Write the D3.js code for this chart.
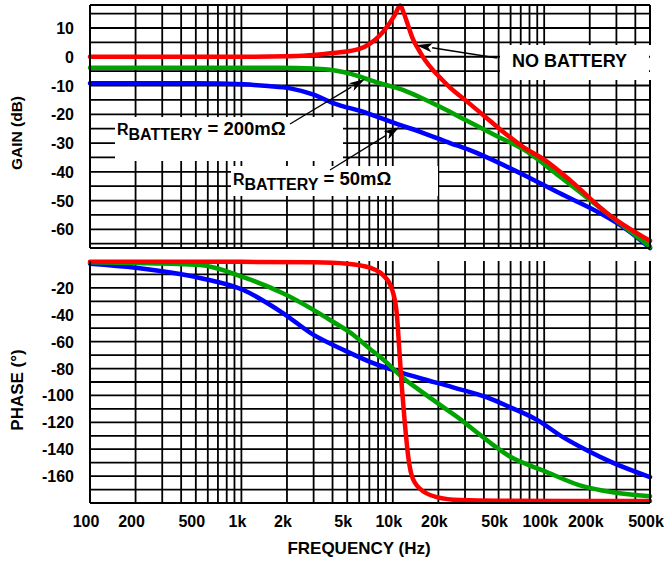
<!DOCTYPE html>
<html><head><meta charset="utf-8">
<script src="https://cdn.jsdelivr.net/npm/d3@7"></script>
<style>
body{margin:0;background:#fff}
text{font-family:"Liberation Sans",Arial,sans-serif;font-weight:bold;fill:#000}
</style>
</head><body>
<svg id="c" width="664" height="563"></svg>
<script>
// ---------- data ----------
const xTickValues = [100,200,500,1000,2000,5000,10000,20000,50000,100000,200000,500000];
const xTickLabels = ["100","200","500","1k","2k","5k","10k","20k","50k","100k","200k","500k"];
const gainTicks = [10,0,-10,-20,-30,-40,-50,-60];
const phaseTicks = [-20,-40,-60,-80,-100,-120,-140,-160];
const gainGrid = [15,10,5,0,-5,-10,-15,-20,-25,-30,-35,-40,-45,-50,-55,-60,-65];
const phaseGrid = [-10,-20,-30,-40,-50,-60,-70,-80,-90,-100,-110,-120,-130,-140,-150,-160,-170];

// NO BATTERY (red)
const redGainF = [100,1000,2000,3000,3850,5200,6070,7070,8200,9100,10300,11200,11800,12600,13500,15000,16500,18400,20500,24000,31000,40000,51000,72000,100000,148000,260000,500000];
const redGain  = [0,0,0.2,0.6,1.2,2.0,2.8,4.6,7.4,10.2,14.5,17.8,15.3,11.0,6.5,2.0,-1.5,-4.6,-7.2,-10.8,-15.6,-20.5,-25.2,-31.2,-35.8,-42.9,-54.4,-64];
// RBATTERY = 200mΩ (green)
const greenGainF = [100,1000,1800,3000,3850,4700,6000,7000,9000,11000,12400,15000,20500,27800,50000,72000,126000,260000,500000];
const greenGain  = [-3.8,-3.8,-3.8,-4.1,-4.5,-5.3,-6.8,-8,-9.8,-11.1,-12.1,-14,-17.4,-21,-27.9,-32,-41.5,-54.4,-66];
// RBATTERY = 50mΩ (blue)
const blueGainF = [100,500,1030,1500,2100,3000,4000,6700,11100,15000,23900,32000,69000,126000,234000,350000,500000];
const blueGain  = [-9.2,-9.2,-9.6,-10.2,-11,-13.2,-16,-19.5,-23.7,-26,-30,-32.4,-40.4,-47.4,-54.4,-60,-66.5];

const redPhaseF = [100,1000,3000,5000,7070,8600,9800,10600,11100,11500,12000,12600,13300,15000,19500,27800,50000,500000];
const redPhase  = [-0.6,-0.6,-1,-2,-5,-10.4,-20,-38,-70,-95,-120,-144,-159,-169,-175.6,-177.8,-178.3,-178.5];
const greenPhaseF = [100,200,532,1030,1880,4000,5500,7000,9000,11700,15000,20500,27800,35000,45000,62000,80000,104000,170000,283000,500000];
const greenPhase  = [-1,-1.5,-3,-12,-24,-45,-55,-65,-75,-87,-96,-107,-117.5,-126.5,-136,-146.6,-152,-157,-166.7,-172,-175];
const bluePhaseF = [100,200,532,1030,1880,3000,4700,7070,11100,15000,25000,41900,59000,89000,133000,190000,283000,500000];
const bluePhase  = [-2,-5,-12.6,-21.6,-38.7,-55,-66,-75,-82.6,-87,-94,-101.5,-108.6,-118,-131,-140.6,-150,-160.7];

// ---------- layout ----------
const L = 90, R = 650;
const gTop = 5, gBot = 248, pTop = 261, pBot = 503;
const svg = d3.select("#c");
const x = d3.scaleLog().domain([100,500000]).range([L,R]);
const yG = d3.scaleLinear().domain([-66.5,18]).range([gBot,gTop]);
const yP = d3.scaleLinear().domain([-180,0]).range([pBot,pTop]);

const xGrid = [];
[100,1000,10000,100000].forEach(d => { for (let m=1;m<=9;m++){ const v=m*d; if (v>100 && v<500000) xGrid.push(v);} });

function panel(y, top, bot, hgrid){
  const g = svg.append("g");
  g.selectAll("line.v").data(xGrid).enter().append("line")
    .attr("x1",d=>x(d)).attr("x2",d=>x(d)).attr("y1",top).attr("y2",bot)
    .attr("stroke","#000").attr("stroke-width",1.8);
  g.selectAll("line.h").data(hgrid).enter().append("line")
    .attr("x1",L).attr("x2",R).attr("y1",d=>y(d)).attr("y2",d=>y(d))
    .attr("stroke","#000").attr("stroke-width",1.8);
  return g;
}
panel(yG, gTop, gBot, gainGrid);
panel(yP, pTop, pBot, phaseGrid);

// white label boxes
const boxes = [[115,117,228,44],[231,166,207,30],[500,45,149,35]];
svg.selectAll("rect.box").data(boxes).enter().append("rect")
  .attr("x",d=>d[0]).attr("y",d=>d[1]).attr("width",d=>d[2]).attr("height",d=>d[3]).attr("fill","#fff");

// clip paths
const defs = svg.append("defs");
defs.append("clipPath").attr("id","cg").append("rect").attr("x",L-3).attr("y",gTop-3).attr("width",R-L+6).attr("height",gBot-gTop+6);
defs.append("clipPath").attr("id","cp").append("rect").attr("x",L-3).attr("y",pTop-3).attr("width",R-L+6).attr("height",pBot-pTop+6);

function curve(F, V, y, color, clip){
  const line = d3.line().x(d=>x(d[0])).y(d=>y(d[1])).curve(d3.curveMonotoneX);
  svg.append("path").attr("d", line(F.map((f,i)=>[f,V[i]])))
    .attr("fill","none").attr("stroke",color).attr("stroke-width",4.5)
    .attr("stroke-linejoin","round").attr("stroke-linecap","round")
    .attr("clip-path","url(#"+clip+")");
}
const RED="#ff0000", GREEN="#00a400", BLUE="#0000ff";
curve(blueGainF, blueGain, yG, BLUE, "cg");
curve(greenGainF, greenGain, yG, GREEN, "cg");
curve(redGainF, redGain, yG, RED, "cg");
curve(bluePhaseF, bluePhase, yP, BLUE, "cp");
curve(greenPhaseF, greenPhase, yP, GREEN, "cp");
curve(redPhaseF, redPhase, yP, RED, "cp");

// borders
[[gTop,gBot],[pTop,pBot]].forEach(([t,b])=>{
  svg.append("line").attr("x1",L).attr("x2",L).attr("y1",t).attr("y2",b).attr("stroke","#000").attr("stroke-width",2);
  svg.append("line").attr("x1",L).attr("x2",R).attr("y1",b).attr("y2",b).attr("stroke","#000").attr("stroke-width",2);
});
svg.append("line").attr("x1",L).attr("x2",R).attr("y1",gTop).attr("y2",gTop).attr("stroke","#000").attr("stroke-width",2);
svg.append("line").attr("x1",R).attr("x2",R).attr("y1",gTop).attr("y2",45).attr("stroke","#000").attr("stroke-width",2);
svg.append("line").attr("x1",R).attr("x2",R).attr("y1",80).attr("y2",gBot).attr("stroke","#000").attr("stroke-width",2);
svg.append("line").attr("x1",R).attr("x2",R).attr("y1",pTop).attr("y2",pBot).attr("stroke","#000").attr("stroke-width",2);

// tick labels
svg.selectAll("text.gt").data(gainTicks).enter().append("text")
  .attr("x",74).attr("y",d=>yG(d)+6).attr("text-anchor","end").attr("font-size",16).text(d=>d);
svg.selectAll("text.pt").data(phaseTicks).enter().append("text")
  .attr("x",74).attr("y",d=>yP(d)+6).attr("text-anchor","end").attr("font-size",16).text(d=>d);
svg.selectAll("text.xt").data(xTickValues).enter().append("text")
  .attr("x",d=>x(d)-4).attr("y",527).attr("text-anchor","middle").attr("font-size",16)
  .text((d,i)=>xTickLabels[i]);

// axis titles
svg.append("text").attr("transform","translate(22,133) rotate(-90)").attr("text-anchor","middle").attr("font-size",15.5).text("GAIN (dB)");
svg.append("text").attr("transform","translate(23,390) rotate(-90)").attr("text-anchor","middle").attr("font-size",17).text("PHASE (°)");
svg.append("text").attr("x",359).attr("y",554).attr("text-anchor","middle").attr("font-size",17).text("FREQUENCY (Hz)");

// annotations
svg.append("text").attr("x",512).attr("y",67).attr("font-size",18).text("NO BATTERY");
function rlabel(x0, y0, val){
  const t = svg.append("text").attr("x",x0).attr("y",y0).attr("font-size",16);
  t.append("tspan").text("R");
  t.append("tspan").attr("dy",4.5).text("BATTERY");
  t.append("tspan").attr("dy",-4.5).attr("font-size",18.5).text(" = "+val);
}
rlabel(117,135,"200mΩ");
rlabel(233,185,"50mΩ");

function arrow(x1,y1,x2,y2){
  const a = Math.atan2(y2-y1,x2-x1), len=16, hw=4.5;
  const bx = x2-len*Math.cos(a), by = y2-len*Math.sin(a);
  svg.append("line").attr("x1",x1).attr("y1",y1).attr("x2",bx).attr("y2",by).attr("stroke","#000").attr("stroke-width",1.3);
  const pts = [[x2,y2],[bx+hw*Math.sin(a),by-hw*Math.cos(a)],[bx+4*Math.cos(a),by+4*Math.sin(a)],[bx-hw*Math.sin(a),by+hw*Math.cos(a)]];
  svg.append("path").attr("d","M"+pts.map(p=>p.join(",")).join("L")+"Z").attr("fill","#000");
}
arrow(497,58, x(14300), yG(4));
arrow(290,124, x(6550), yG(-7.7));
arrow(330,170, x(11100), yG(-24.4));
</script>
</body></html>
